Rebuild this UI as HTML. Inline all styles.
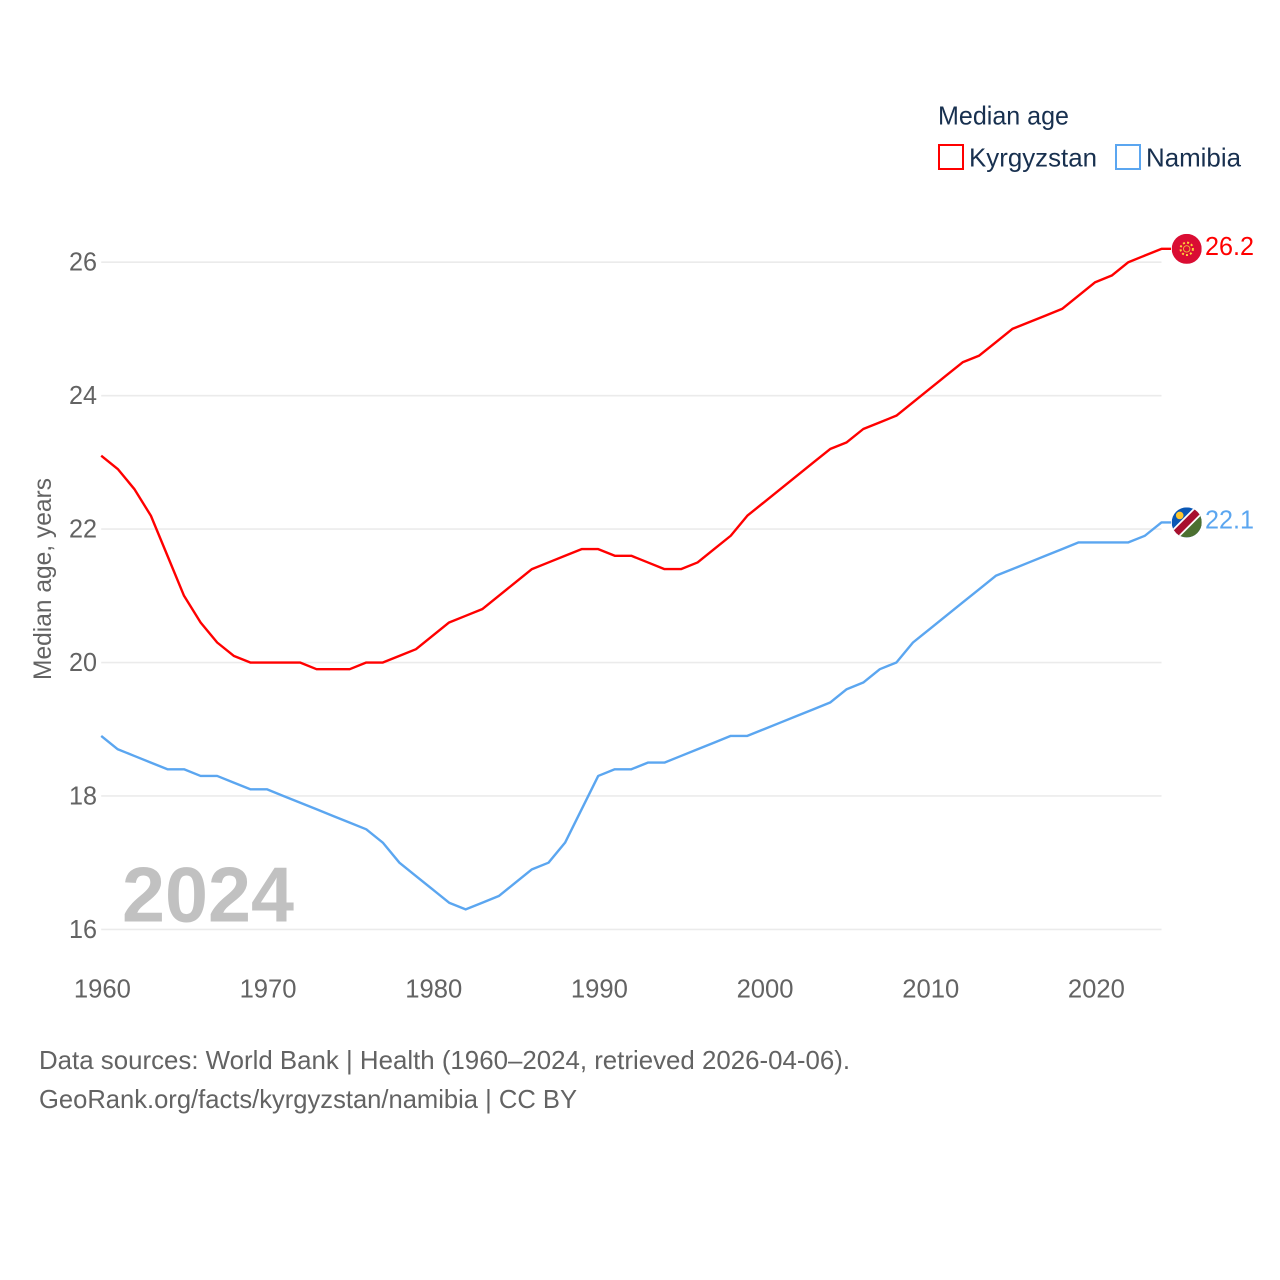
<!DOCTYPE html>
<html lang="en">
<head>
<meta charset="utf-8">
<title>Median age: Kyrgyzstan and Namibia</title>
<style>
html,body{margin:0;padding:0;background:#fff;}
svg{display:block;font-family:"Liberation Sans",sans-serif;}
</style>
</head>
<body>
<svg id="chart" xmlns="http://www.w3.org/2000/svg" width="1280" height="1280" viewBox="0 0 1280 1280">
  <defs>
    <clipPath id="flag-clip-k"><circle cx="0" cy="0" r="15"></circle></clipPath>
    <clipPath id="flag-clip-n"><circle cx="0" cy="0" r="15"></circle></clipPath>
  </defs>
  <rect width="1280" height="1280" fill="#ffffff"></rect>

  <g id="grid"></g>
  <g id="y-axis"></g>
  <g id="x-axis"></g>

  <text x="122" y="921.5" font-size="78" font-weight="700" fill="#c1c1c1" textLength="172" lengthAdjust="spacingAndGlyphs">2024</text>

  <g id="series"></g>

  <text transform="translate(51,680) rotate(-90)" font-size="25" fill="#636363" textLength="202" lengthAdjust="spacingAndGlyphs">Median age, years</text>

  <g>
    <text x="938" y="124.5" font-size="26" fill="#18304f" textLength="131" lengthAdjust="spacingAndGlyphs">Median age</text>
    <rect x="939" y="145" width="24" height="24" fill="#ffffff" stroke="#ff0000" stroke-width="2"></rect>
    <text x="969" y="166.5" font-size="26" fill="#18304f" textLength="128" lengthAdjust="spacingAndGlyphs">Kyrgyzstan</text>
    <rect x="1116" y="145" width="24" height="24" fill="#ffffff" stroke="#5ba6f0" stroke-width="2"></rect>
    <text x="1146" y="166.5" font-size="26" fill="#18304f" textLength="95" lengthAdjust="spacingAndGlyphs">Namibia</text>
  </g>

  <g id="flag-k">
    <g clip-path="url(#flag-clip-k)">
      <rect x="-15" y="-15" width="30" height="30" fill="#da0d33"></rect>
      <circle cx="0" cy="0" r="6.2" fill="none" stroke="#ffd03a" stroke-width="2" stroke-dasharray="2 2.2"></circle>
      <circle cx="0" cy="0" r="3.2" fill="none" stroke="#f0b93a" stroke-width="0.9"></circle>
    </g>
  </g>
  <g id="flag-n">
    <g clip-path="url(#flag-clip-n)">
      <rect x="-15" y="-15" width="30" height="30" fill="#0a57b5"></rect>
      <polygon points="15,-15 15,15 -15,15" fill="#4c7030"></polygon>
      <line x1="-15" y1="15" x2="15" y2="-15" stroke="#ffffff" stroke-width="10.5"></line>
      <line x1="-15" y1="15" x2="15" y2="-15" stroke="#a8102e" stroke-width="7"></line>
      <circle cx="-7" cy="-7" r="3.8" fill="#ffc72c"></circle>
    </g>
  </g>

  <g>
    <text x="39" y="1069" font-size="26" fill="#636363" textLength="811" lengthAdjust="spacingAndGlyphs">Data sources: World Bank | Health (1960–2024, retrieved 2026-04-06).</text>
    <text x="39" y="1108" font-size="26" fill="#636363" textLength="538" lengthAdjust="spacingAndGlyphs">GeoRank.org/facts/kyrgyzstan/namibia | CC BY</text>
  </g>
</svg>

<script>
const startYear = 1960;
const xTickLabels = [1960, 1970, 1980, 1990, 2000, 2010, 2020];
const yTickLabels = [16, 18, 20, 22, 24, 26];
const kyrgyzstanValues = [
  23.1, 22.9, 22.6, 22.2, 21.6, 21.0, 20.6, 20.3, 20.1, 20.0,
  20.0, 20.0, 20.0, 19.9, 19.9, 19.9, 20.0, 20.0, 20.1, 20.2,
  20.4, 20.6, 20.7, 20.8, 21.0, 21.2, 21.4, 21.5, 21.6, 21.7,
  21.7, 21.6, 21.6, 21.5, 21.4, 21.4, 21.5, 21.7, 21.9, 22.2,
  22.4, 22.6, 22.8, 23.0, 23.2, 23.3, 23.5, 23.6, 23.7, 23.9,
  24.1, 24.3, 24.5, 24.6, 24.8, 25.0, 25.1, 25.2, 25.3, 25.5,
  25.7, 25.8, 26.0, 26.1, 26.2
];
const namibiaValues = [
  18.9, 18.7, 18.6, 18.5, 18.4, 18.4, 18.3, 18.3, 18.2, 18.1,
  18.1, 18.0, 17.9, 17.8, 17.7, 17.6, 17.5, 17.3, 17.0, 16.8,
  16.6, 16.4, 16.3, 16.4, 16.5, 16.7, 16.9, 17.0, 17.3, 17.8,
  18.3, 18.4, 18.4, 18.5, 18.5, 18.6, 18.7, 18.8, 18.9, 18.9,
  19.0, 19.1, 19.2, 19.3, 19.4, 19.6, 19.7, 19.9, 20.0, 20.3,
  20.5, 20.7, 20.9, 21.1, 21.3, 21.4, 21.5, 21.6, 21.7, 21.8,
  21.8, 21.8, 21.8, 21.9, 22.1
];

const SVG_NS = 'http://www.w3.org/2000/svg';
const plotLeft = 101.2;
const plotRight = 1161.5;
const stubEnd = 1171;

function xScale(year) {
  return plotLeft + (year - startYear) * (1095.2 - plotLeft) / 60;
}
function yScale(value) {
  return 262.2 + (26 - value) * (929.4 - 262.2) / 10;
}
function make(tag, attrs, parent) {
  const el = document.createElementNS(SVG_NS, tag);
  Object.keys(attrs).forEach(function (k) { el.setAttribute(k, attrs[k]); });
  parent.appendChild(el);
  return el;
}

const gridGroup = document.getElementById('grid');
const yAxisGroup = document.getElementById('y-axis');
const xAxisGroup = document.getElementById('x-axis');
const seriesGroup = document.getElementById('series');
const chartSvg = document.getElementById('chart');

yTickLabels.forEach(function (tick) {
  const line = make('line', { x1: plotLeft, x2: plotRight, y1: yScale(tick), y2: yScale(tick), stroke: '#ebebeb', 'stroke-width': 1.6 }, gridGroup);
  
  
  const label = make('text', { x: 97, y: yScale(tick) + 8.5, 'text-anchor': 'end', 'font-size': 26, fill: '#636363', textLength: 28, lengthAdjust: 'spacingAndGlyphs' }, yAxisGroup);
  label.textContent = String(tick);
  
  
});

xTickLabels.forEach(function (tick) {
  const label = make('text', { x: xScale(tick) + 1.2, y: 997.5, 'text-anchor': 'middle', 'font-size': 26, fill: '#636363', textLength: 57, lengthAdjust: 'spacingAndGlyphs' }, xAxisGroup);
  label.textContent = String(tick);
  
  
});

function drawSeries(values, color, key, flagId) {
  const last = values[values.length - 1];
  const pts = values.map(function (v, i) {
    return xScale(startYear + i).toFixed(2) + ',' + yScale(v).toFixed(2);
  });
  pts.push(stubEnd + ',' + yScale(last).toFixed(2));
  const path = make('polyline', { points: pts.join(' '), fill: 'none', stroke: color, 'stroke-width': 2.4, 'stroke-linejoin': 'round', 'stroke-linecap': 'butt' }, seriesGroup);
  
  

  const valueLabel = make('text', { x: 1205, y: yScale(last) + 6.3, 'font-size': 26, fill: color, textLength: 49, lengthAdjust: 'spacingAndGlyphs' }, chartSvg);
  valueLabel.textContent = last.toFixed(1);
  
  

  document.getElementById(flagId).setAttribute('transform', 'translate(1186.7,' + yScale(last).toFixed(2) + ')');
}

drawSeries(kyrgyzstanValues, '#ff0000', 'kyrgyzstan', 'flag-k');
drawSeries(namibiaValues, '#5ba6f0', 'namibia', 'flag-n');
</script>
</body>
</html>
